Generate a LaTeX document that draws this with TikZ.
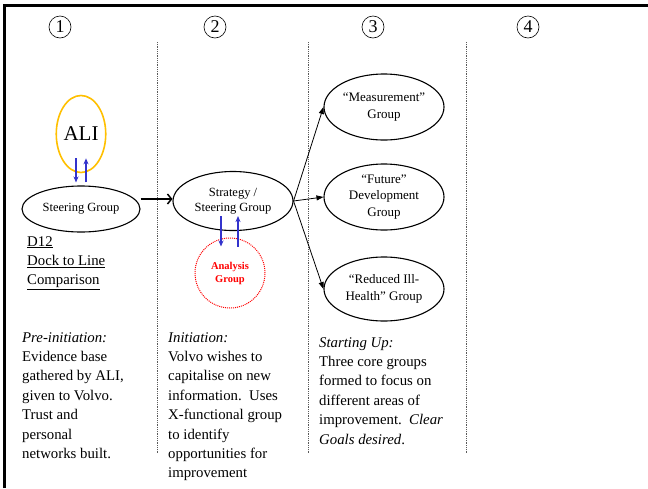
\documentclass[tikz,border=0pt]{standalone}
\usepackage{fontspec}
\setmainfont{Liberation Serif}
\usetikzlibrary{arrows.meta,shapes.geometric,calc}
\definecolor{gold}{RGB}{255,192,0}
\definecolor{arrblue}{RGB}{51,51,204}
\definecolor{divgray}{RGB}{90,90,90}
\begin{document}
\begin{tikzpicture}[x=1pt,y=-1pt,
  numc/.style={circle,draw,line width=0.6pt,minimum size=22pt,inner sep=0pt,font=\fontsize{18}{18}\selectfont},
  divider/.style={draw=divgray,line width=0.8pt,densely dotted},
  grp/.style={ellipse,draw,line width=1.1pt,inner sep=0pt,align=center,font=\fontsize{13}{16.5}\selectfont},
  bluearr/.style={draw=arrblue,line width=1.6pt,-{Stealth[length=6pt,width=5pt]}},
  thinarr/.style={draw,line width=0.8pt,-{Triangle[length=7pt,width=5pt]}},
  body/.style={anchor=north west,inner sep=0pt,align=left,font=\fontsize{14.8}{19.4}\selectfont}
]
\useasboundingbox (0,0) rectangle (648,488);
\fill[white] (0,0) rectangle (648,488);
% frame
\draw[line width=2.6pt] (4.5,488) -- (4.5,5.5) -- (648,5.5);
% step numbers
\node[numc] (n1) at (60,27) {1};
\node[numc] (n2) at (215,27) {2};
\node[numc] (n3) at (373,27) {3};
\node[numc] (n4) at (528,27) {4};
% dividers
\draw[divider] (157,42) -- (157,453);
\draw[divider] (308,42) -- (308,453);
\draw[divider] (466,42) -- (466,453);
% column 1
\node[ellipse,draw=gold,line width=1.6pt,minimum width=44pt,minimum height=77pt,inner sep=0pt,font=\fontsize{21}{21}\selectfont] (ali) at (81,134) {ALI};
\node[grp,minimum width=118pt,minimum height=46pt,font=\fontsize{12.5}{15}\selectfont] (steer) at (81,209) {Steering Group};
\draw[bluearr] ([xshift=-5pt,yshift=15pt]ali.south) -- ([xshift=-5pt,yshift=3pt]steer.north);
\draw[bluearr] ([xshift=5pt,yshift=3pt]steer.north) -- ([xshift=5pt,yshift=15pt]ali.south);
\node[body] (d12) at (27,236) {\underline{D12}\\\underline{Dock to Line}\\\underline{Comparison}};
% column 2
\node[grp,minimum width=120pt,minimum height=59pt,font=\fontsize{12.5}{15.5}\selectfont] (strat) at (233,201) {Strategy /\\Steering Group};
\node[circle,draw=red,densely dotted,line width=1pt,minimum size=70pt,inner sep=0pt,align=center,text=red,font=\bfseries\fontsize{10.5}{13}\selectfont] (anal) at (230,273) {Analysis\\Group};
\draw[bluearr] ([xshift=-12pt,yshift=15pt]strat.south) -- ([xshift=-9pt,yshift=-9pt]anal.north);
\draw[bluearr] ([xshift=8pt,yshift=-9pt]anal.north) -- ([xshift=5pt,yshift=15pt]strat.south);
\draw[line width=1.5pt,-{Straight Barb[length=4pt,width=10pt]}] (steer.east |- 0,199) -- (strat.west |- 0,199);
% column 3
\node[grp,minimum width=120pt,minimum height=66pt] (meas) at (384,107) {“Measurement”\\Group};
\node[grp,minimum width=120pt,minimum height=66pt] (fut) at (384,197) {“Future”\\Development\\Group};
\node[grp,minimum width=120pt,minimum height=64pt] (redu) at (384,289) {“Reduced Ill-\\Health” Group};
\draw[thinarr] (strat.east) -- (meas.west);
\draw[thinarr] (strat.east) -- (fut.west);
\draw[thinarr] (strat.east) -- (redu.west);
% texts
\node[body] (t1) at (22,332) {\textit{Pre-initiation:}\\Evidence base\\gathered by ALI,\\given to Volvo.\\Trust and\\personal\\networks built.};
\node[body] (t2) at (168,332) {\textit{Initiation:}\\Volvo wishes to\\capitalise on new\\information.\ \ Uses\\X-functional group\\to identify\\opportunities for\\improvement};
\node[body] (t3) at (319,337) {\textit{Starting Up:}\\Three core groups\\formed to focus on\\different areas of\\improvement.\ \ \textit{Clear}\\\textit{Goals desired}.};
\end{tikzpicture}
\end{document}
